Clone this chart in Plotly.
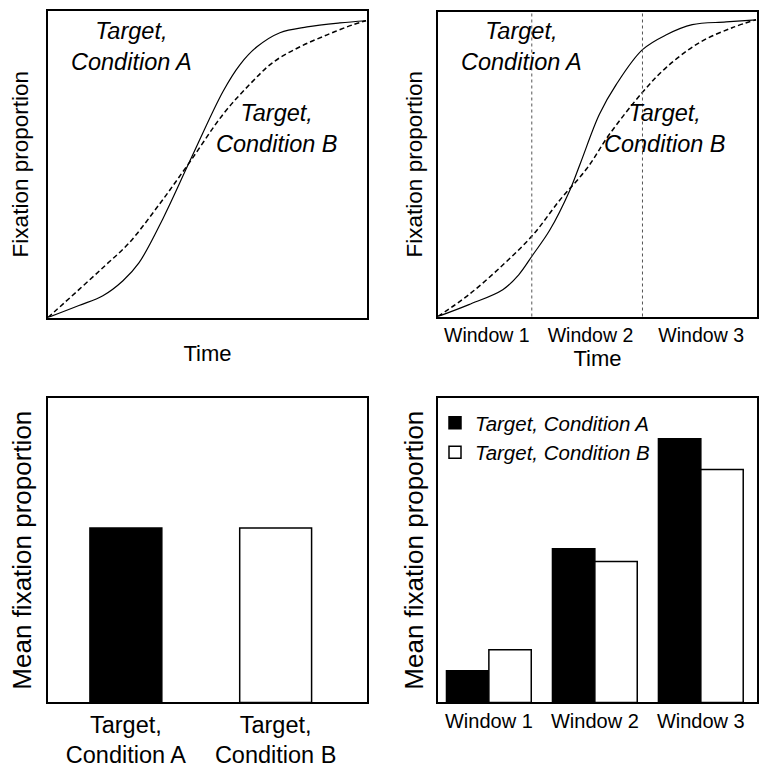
import plotly.graph_objects as go

# ---------------- data ----------------
# Panel 1 (top-left): fixation curves over time
time_a1 = [0.0, 0.097, 0.172, 0.235, 0.285, 0.361, 0.445, 0.549, 0.602, 0.655, 0.727, 0.812, 0.915, 0.997]
fix_a1 = [0.0, 0.039, 0.071, 0.120, 0.178, 0.324, 0.511, 0.738, 0.825, 0.883, 0.929, 0.948, 0.961, 0.968]
time_b1 = [0.0, 0.097, 0.182, 0.254, 0.351, 0.445, 0.549, 0.633, 0.705, 0.790, 0.875, 0.956, 0.997]
fix_b1 = [0.0, 0.091, 0.172, 0.243, 0.372, 0.508, 0.663, 0.761, 0.832, 0.883, 0.922, 0.955, 0.968]

# Panel 2 (top-right): same curves with analysis windows
time_a2 = [0.0, 0.097, 0.203, 0.253, 0.297, 0.350, 0.413, 0.447, 0.506, 0.559, 0.641, 0.716, 0.797, 0.903, 0.997]
fix_a2 = [0.0, 0.039, 0.088, 0.137, 0.202, 0.283, 0.414, 0.505, 0.664, 0.762, 0.876, 0.925, 0.958, 0.967, 0.974]
time_b2 = [0.0, 0.097, 0.203, 0.297, 0.381, 0.466, 0.538, 0.641, 0.716, 0.819, 0.922, 0.997]
fix_b2 = [0.0, 0.072, 0.169, 0.267, 0.381, 0.485, 0.599, 0.736, 0.818, 0.899, 0.948, 0.974]
window_bounds = [0.294, 0.641]
window_label_pos = [0.153, 0.478, 0.825]
window_labels = ["Window 1", "Window 2", "Window 3"]

# Panel 3 (bottom-left): overall mean fixation
cond_labels = ["Target,<br>Condition A", "Target,<br>Condition B"]
cond_means = [0.573, 0.573]

# Panel 4 (bottom-right): mean fixation per window
win_cats = ["Window 1", "Window 2", "Window 3"]
win_a = [0.104, 0.505, 0.866]
win_b = [0.173, 0.463, 0.765]

FONT = "Liberation Sans, Arial, sans-serif"

fig = go.Figure()

sol = dict(color="black", width=1.2, shape="spline", smoothing=1.0)
dsh = dict(color="black", width=1.5, dash="5px,3px", shape="spline", smoothing=1.0)

# Panel 1
fig.add_trace(go.Scatter(x=time_a1, y=fix_a1, mode="lines", line=sol, showlegend=False, xaxis="x", yaxis="y"))
fig.add_trace(go.Scatter(x=time_b1, y=fix_b1, mode="lines", line=dsh, showlegend=False, xaxis="x", yaxis="y"))
# Panel 2
fig.add_trace(go.Scatter(x=time_a2, y=fix_a2, mode="lines", line=sol, showlegend=False, xaxis="x2", yaxis="y2"))
fig.add_trace(go.Scatter(x=time_b2, y=fix_b2, mode="lines", line=dsh, showlegend=False, xaxis="x2", yaxis="y2"))
# Panel 3
fig.add_trace(go.Bar(x=cond_labels, y=cond_means, width=0.48,
                     marker=dict(color=["black", "white"], line=dict(color="black", width=1.5)),
                     showlegend=False, xaxis="x3", yaxis="y3"))
# Panel 4
fig.add_trace(go.Bar(x=win_cats, y=win_a, name="Target, Condition A",
                     marker=dict(color="black", line=dict(color="black", width=1.5)),
                     xaxis="x4", yaxis="y4"))
fig.add_trace(go.Bar(x=win_cats, y=win_b, name="Target, Condition B",
                     marker=dict(color="white", line=dict(color="black", width=1.5)),
                     xaxis="x4", yaxis="y4"))

W, H = 759, 768
def dx(a, b):
    return [a / W, b / W]
def dy(top, bottom):
    return [1 - bottom / H, 1 - top / H]

box = dict(showline=True, linecolor="black", linewidth=2, mirror=True, showgrid=False,
           zeroline=False, ticks="")

fig.update_layout(
    width=W, height=H,
    margin=dict(l=0, r=0, t=0, b=0),
    paper_bgcolor="white", plot_bgcolor="white",
    font=dict(family=FONT, color="black", size=20),
    barmode="group", bargap=0.2, bargroupgap=0,
    hovermode=False,
    xaxis=dict(domain=dx(48, 367), range=[0, 1], showticklabels=False, anchor="y",
               title=dict(text="Time", font=dict(size=22), standoff=27), **box),
    yaxis=dict(domain=dy(11, 320), range=[0, 1], showticklabels=False, anchor="x",
               title=dict(text="Fixation proportion", font=dict(size=22.5), standoff=11), **box),
    xaxis2=dict(domain=dx(438, 757), range=[0, 1], anchor="y2",
                tickmode="array", tickvals=window_label_pos, ticktext=window_labels,
                tickfont=dict(size=19.5),
                title=dict(text="Time", font=dict(size=22), standoff=0), **box),
    yaxis2=dict(domain=dy(12, 319), range=[0, 1], showticklabels=False, anchor="x2",
                title=dict(text="Fixation proportion", font=dict(size=22.5), standoff=7), **box),
    xaxis3=dict(domain=dx(48, 367), range=[-0.52, 1.61], anchor="y3", type="category",
                tickfont=dict(size=23.5), **box),
    yaxis3=dict(domain=dy(401, 708), range=[0, 1], showticklabels=False, anchor="x3",
                title=dict(text="Mean fixation proportion", font=dict(size=26), standoff=7), **box),
    xaxis4=dict(domain=dx(438, 757), range=[-0.48, 2.53], anchor="y4", type="category",
                tickfont=dict(size=20), **box),
    yaxis4=dict(domain=dy(401, 708), range=[0, 1], showticklabels=False, anchor="x4",
                title=dict(text="Mean fixation proportion", font=dict(size=26), standoff=5), **box),
    legend=dict(x=435 / W, y=1 - 406 / H, xanchor="left", yanchor="top",
                bgcolor="rgba(0,0,0,0)", font=dict(size=20.5, style="italic"),
                tracegroupgap=0),
)

# window boundaries (dotted)
for b in window_bounds:
    fig.add_shape(type="line", xref="x2", yref="y2 domain", x0=b, x1=b, y0=0, y1=1,
                  line=dict(color="#555555", width=1, dash="dot"))

# curve labels
ann_font = dict(family=FONT, size=23.5, color="black", style="italic")
labels = [
    ("x", "y", 0.263, 0.883, "Target,<br>Condition A"),
    ("x", "y", 0.718, 0.618, "Target,<br>Condition B"),
    ("x2", "y2", 0.263, 0.886, "Target,<br>Condition A"),
    ("x2", "y2", 0.713, 0.616, "Target,<br>Condition B"),
]
for xr, yr, xv, yv, t in labels:
    fig.add_annotation(xref=xr, yref=yr, x=xv, y=yv, text=t, showarrow=False,
                       font=ann_font, align="center")

# remove the browser's default 8px page margin so the figure fills the window exactly
fig.write_html("out.html", config={"displayModeBar": False},
               post_script="document.body.style.margin='0';")
